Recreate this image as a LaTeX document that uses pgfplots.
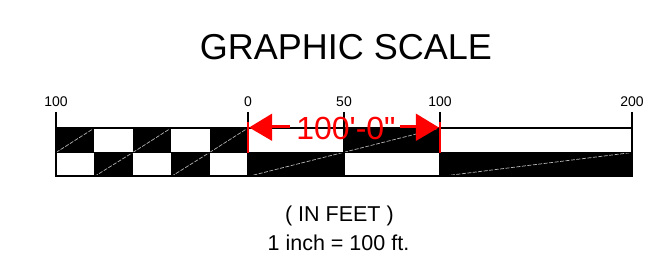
\documentclass[border=0pt]{standalone}
\usepackage{fontspec}
\setmainfont{Liberation Sans}
\newfontfamily\dimfont{Liberation Sans}[Ligatures=TeXOff]
\usepackage{pgfplots}
\pgfplotsset{compat=1.18}
\definecolor{dimred}{RGB}{255,0,0}
\begin{document}
\begin{tikzpicture}
\begin{axis}[
  width=655pt, height=253pt, scale only axis,
  xmin=-129.1667, xmax=211.979,
  ymin=0, ymax=253, y dir=reverse,
  hide axis, clip=false,
]
\addplot[draw=none] coordinates {(-129.1667,0) (211.979,253)};
% black cells, top row
\addplot[fill=black, draw=none] coordinates {(-100,128) (-80,128) (-80,152.5) (-100,152.5)} --cycle;
\addplot[fill=black, draw=none] coordinates {(-60,128) (-40,128) (-40,152.5) (-60,152.5)} --cycle;
\addplot[fill=black, draw=none] coordinates {(-20,128) (0,128) (0,152.5) (-20,152.5)} --cycle;
\addplot[fill=black, draw=none] coordinates {(50,128) (100,128) (100,152.5) (50,152.5)} --cycle;
% black cells, bottom row
\addplot[fill=black, draw=none] coordinates {(-80,152.5) (-60,152.5) (-60,176.5) (-80,176.5)} --cycle;
\addplot[fill=black, draw=none] coordinates {(-40,152.5) (-20,152.5) (-20,176.5) (-40,176.5)} --cycle;
\addplot[fill=black, draw=none] coordinates {(0,152.5) (50,152.5) (50,176.5) (0,176.5)} --cycle;
\addplot[fill=black, draw=none] coordinates {(100,152.5) (200,152.5) (200,176.5) (100,176.5)} --cycle;
% gray diagonals in black cells
\pgfplotsset{diag/.style={gray!60, line width=0.7pt, dash pattern=on 4pt off 1.5pt}}
\addplot[diag] coordinates {(-100,152.5) (-80,128)};
\addplot[diag] coordinates {(-60,152.5) (-40,128)};
\addplot[diag] coordinates {(-20,152.5) (0,128)};
\addplot[diag] coordinates {(-80,176.5) (-60,152.5)};
\addplot[diag] coordinates {(-40,176.5) (-20,152.5)};
\addplot[diag] coordinates {(0,176.5) (100,128)};
\addplot[diag] coordinates {(100,176.5) (200,152.5)};
% outline
\addplot[black, line width=2pt] coordinates {(-100,128) (200,128)};
\addplot[black, line width=1.5pt] coordinates {(-100,152.5) (200,152.5)};
\addplot[black, line width=2pt] coordinates {(-100,176.5) (200,176.5)};
\addplot[black, line width=2pt] coordinates {(-100,112) (-100,177.5)};
\addplot[black, line width=2pt] coordinates {(0,112) (0,177.5)};
\addplot[black, line width=2pt] coordinates {(50,112) (50,177.5)};
\addplot[black, line width=2pt] coordinates {(100,112) (100,177.5)};
\addplot[black, line width=2pt] coordinates {(200,112) (200,177.5)};
% red dimension
\addplot[dimred, line width=2.5pt] coordinates {(0,122) (0,153)};
\addplot[dimred, line width=2.5pt] coordinates {(100,122) (100,153)};
\addplot[dimred, line width=2.5pt] coordinates {(5,126.3) (21.9,126.3)};
\addplot[dimred, line width=2.5pt] coordinates {(79.2,126.3) (95,126.3)};
\addplot[fill=dimred, draw=none] coordinates {(0.6,127.5) (12.6,113.5) (12.6,141)} --cycle;
\addplot[fill=dimred, draw=none] coordinates {(99.4,127.5) (87.4,113.5) (87.4,141)} --cycle;
\node[dimred, anchor=base, inner sep=0pt, font=\dimfont\fontsize{32}{34}\selectfont] at (axis cs:51,139.5) {100'-0"};
% tick labels
\node[anchor=base, inner sep=0pt, font=\fontsize{14}{16}\selectfont] at (axis cs:-100,107) {100};
\node[anchor=base, inner sep=0pt, font=\fontsize{14}{16}\selectfont] at (axis cs:0,107) {0};
\node[anchor=base, inner sep=0pt, font=\fontsize{14}{16}\selectfont] at (axis cs:50,107) {50};
\node[anchor=base, inner sep=0pt, font=\fontsize{14}{16}\selectfont] at (axis cs:100,107) {100};
\node[anchor=base, inner sep=0pt, font=\fontsize{14}{16}\selectfont] at (axis cs:200,107) {200};
% titles
\node[anchor=base, inner sep=0pt, font=\fontsize{36}{40}\selectfont] at (axis cs:51,60) {GRAPHIC SCALE};
\node[anchor=base, inner sep=0pt, font=\fontsize{21.5}{24}\selectfont] at (axis cs:47.6,221.5) {( IN FEET )};
\node[anchor=base, inner sep=0pt, font=\fontsize{21.5}{24}\selectfont] at (axis cs:47.1,250.5) {1 inch = 100 ft.};
\end{axis}
\end{tikzpicture}
\end{document}
